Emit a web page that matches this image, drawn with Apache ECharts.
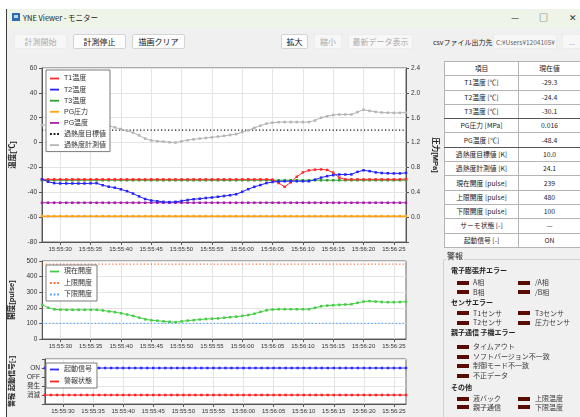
<!DOCTYPE html>
<html>
<head>
<meta charset="utf-8">
<script src="https://cdn.jsdelivr.net/npm/echarts@6/dist/echarts.min.js"></script>
<style>
html,body{margin:0;padding:0;width:580px;height:417px;overflow:hidden;background:#fff;
  font-family:"Noto Sans CJK JP","Liberation Sans",sans-serif;}
#win{position:absolute;left:6px;top:9px;width:574px;height:408px;background:#f0f0f0;border-left:1px solid #3c3c3c;box-sizing:border-box;}
#titlebar{position:absolute;left:7px;top:9px;width:573px;height:19px;background:#eef5e8;}
#icon{position:absolute;left:12px;top:13px;width:8px;height:8px;background:#2a6db5;}
#icon div{position:absolute;left:2px;top:2px;width:4px;height:3px;background:#bcd6f0;}
#title{position:absolute;left:23px;top:13px;font-size:7.5px;line-height:10px;color:#222;}
.ctl{position:absolute;top:12px;font-size:9px;line-height:12px;color:#333;}
.btn{position:absolute;top:34px;height:15px;line-height:14px;font-size:8px;text-align:center;box-sizing:border-box;
  border:1px solid #d4d4d4;background:#fdfdfd;border-radius:2px;color:#111;}
.btn.dis{border-color:#ececec;background:#f7f7f7;color:#ababab;}
#csvlbl{position:absolute;left:433px;top:37px;font-size:7px;line-height:10px;color:#222;}
#path{position:absolute;left:493px;top:34px;width:64px;height:15px;line-height:14px;font-size:6.5px;color:#666;
  background:#f7f7f7;border:1px solid #ececec;box-sizing:border-box;overflow:hidden;white-space:nowrap;padding-left:2px;}
#chart{position:absolute;left:0;top:0;width:580px;height:417px;}
#tbl{position:absolute;left:444px;top:61px;width:136px;border-collapse:collapse;background:#fff;border:1px solid #555;table-layout:fixed;}
#tbl td{height:13.3px;padding:0;font-size:6.8px;line-height:9px;text-align:center;border:1px solid #b4b4b4;color:#222;white-space:nowrap;overflow:hidden;}
#tbl tr.grp td{border-bottom:1px solid #555;}
#alarmBox{position:absolute;left:443px;top:259px;width:140px;height:170px;border:1px solid #d2d2d2;border-radius:2px;box-sizing:border-box;}
#alarmTitle{position:absolute;left:446px;top:251px;font-size:8px;line-height:10px;color:#222;background:#f0f0f0;padding:0 1px;}
.hd{position:absolute;left:451px;font-size:7px;line-height:9px;font-weight:bold;color:#222;}
.mk{position:absolute;width:12px;height:4px;background:#5a0b02;}
.it{position:absolute;font-size:7px;line-height:9px;color:#3a3a3a;white-space:nowrap;}
</style>
</head>
<body>
<div id="win"></div>
<div id="titlebar"></div>
<div id="icon"><div></div></div>
<div id="title">YNE Viewer - モニター</div>
<div class="ctl" style="left:511px">—</div>
<div class="ctl" style="left:539px">□</div>
<div class="ctl" style="left:569px">✕</div>

<div class="btn dis" style="left:14px;width:53px">計測開始</div>
<div class="btn" style="left:73px;width:53px">計測停止</div>
<div class="btn" style="left:132px;width:53px">描画クリア</div>
<div class="btn" style="left:281px;width:27px">拡大</div>
<div class="btn dis" style="left:314px;width:28px">縮小</div>
<div class="btn dis" style="left:348px;width:65px">最新データ表示</div>
<div id="csvlbl">csvファイル出力先</div>
<div id="path">C:¥Users¥1204105¥</div>
<div class="btn dis" style="left:562px;width:20px">...</div>

<div id="chart"></div>

<table id="tbl">
  <colgroup><col style="width:74px"><col style="width:62px"></colgroup>
  <tr><td>項目</td><td>現在値</td></tr>
  <tr><td>T1温度 [℃]</td><td>-29.3</td></tr>
  <tr><td>T2温度 [℃]</td><td>-24.4</td></tr>
  <tr class="grp"><td>T3温度 [℃]</td><td>-30.1</td></tr>
  <tr><td>PG圧力 [MPa]</td><td>0.016</td></tr>
  <tr class="grp"><td>PG温度 [℃]</td><td>-48.4</td></tr>
  <tr><td>過熱度目標値 [K]</td><td>10.0</td></tr>
  <tr><td>過熱度計測値 [K]</td><td>24.1</td></tr>
  <tr><td>現在開度 [pulse]</td><td>239</td></tr>
  <tr><td>上限開度 [pulse]</td><td>480</td></tr>
  <tr><td>下限開度 [pulse]</td><td>100</td></tr>
  <tr><td>サーモ状態 [-]</td><td>—</td></tr>
  <tr><td>起動信号 [-]</td><td>ON</td></tr>
</table>

<div id="alarmBox"></div>
<div id="alarmTitle">警報</div>
<div class="hd" style="top:266px">電子膨張弁エラー</div>
<div class="mk" style="left:457px;top:281px"></div><div class="it" style="left:473px;top:278px">A相</div>
<div class="mk" style="left:518px;top:281px"></div><div class="it" style="left:535px;top:278px">/A相</div>
<div class="mk" style="left:457px;top:290px"></div><div class="it" style="left:473px;top:288px">B相</div>
<div class="mk" style="left:518px;top:290px"></div><div class="it" style="left:535px;top:288px">/B相</div>
<div class="hd" style="top:298px">センサエラー</div>
<div class="mk" style="left:457px;top:311px"></div><div class="it" style="left:473px;top:309px">T1センサ</div>
<div class="mk" style="left:518px;top:311px"></div><div class="it" style="left:535px;top:309px">T3センサ</div>
<div class="mk" style="left:457px;top:321px"></div><div class="it" style="left:473px;top:318px">T2センサ</div>
<div class="mk" style="left:518px;top:321px"></div><div class="it" style="left:535px;top:318px">圧力センサ</div>
<div class="hd" style="top:328px">親子通信 子機エラー</div>
<div class="mk" style="left:457px;top:345px"></div><div class="it" style="left:473px;top:342px">タイムアウト</div>
<div class="mk" style="left:457px;top:355px"></div><div class="it" style="left:473px;top:352px">ソフトバージョン不一致</div>
<div class="mk" style="left:457px;top:364px"></div><div class="it" style="left:473px;top:361px">制御モード不一致</div>
<div class="mk" style="left:457px;top:374px"></div><div class="it" style="left:473px;top:371px">不正データ</div>
<div class="hd" style="top:383px">その他</div>
<div class="mk" style="left:457px;top:397px"></div><div class="it" style="left:473px;top:394px">液バック</div>
<div class="mk" style="left:518px;top:397px"></div><div class="it" style="left:535px;top:394px">上限温度</div>
<div class="mk" style="left:457px;top:405px"></div><div class="it" style="left:473px;top:403px">親子通信</div>
<div class="mk" style="left:518px;top:405px"></div><div class="it" style="left:535px;top:403px">下限温度</div>

<script>
// Sampling times (one sample per second)
const timeLabels = [
  '15:55:27','15:55:28','15:55:29','15:55:30','15:55:31','15:55:32','15:55:33','15:55:34','15:55:35','15:55:36',
  '15:55:37','15:55:38','15:55:39','15:55:40','15:55:41','15:55:42','15:55:43','15:55:44','15:55:45','15:55:46',
  '15:55:47','15:55:48','15:55:49','15:55:50','15:55:51','15:55:52','15:55:53','15:55:54','15:55:55','15:55:56',
  '15:55:57','15:55:58','15:55:59','15:56:00','15:56:01','15:56:02','15:56:03','15:56:04','15:56:05','15:56:06',
  '15:56:07','15:56:08','15:56:09','15:56:10','15:56:11','15:56:12','15:56:13','15:56:14','15:56:15','15:56:16',
  '15:56:17','15:56:18','15:56:19','15:56:20','15:56:21','15:56:22','15:56:23','15:56:24','15:56:25','15:56:26',
  '15:56:27'
];

// Temperatures [℃]
const t1Temp = [
  -29.6,-29.6,-29.6,-29.6,-29.6,-29.6,-29.6,-29.6,-29.6,-29.6,
  -29.6,-29.6,-29.6,-29.6,-29.6,-29.6,-29.6,-29.6,-29.6,-29.6,
  -29.6,-29.6,-29.6,-29.6,-29.6,-29.6,-29.6,-29.6,-29.6,-29.6,
  -29.6,-29.6,-29.6,-29.6,-29.6,-29.6,-29.6,-29.6,-29.8,-32.5,
  -35.6,-32.0,-27.5,-24.0,-22.4,-21.8,-21.6,-22.0,-24.2,-28.2,
  -29.6,-29.6,-29.6,-29.6,-29.6,-29.6,-29.6,-29.6,-29.6,-29.6,
  -29.3
];
const t2Temp = [
  -29.5,-31.5,-32.6,-32.9,-32.9,-32.9,-32.9,-32.9,-32.8,-32.7,
  -34.3,-35.5,-36.3,-37.6,-39.1,-41.0,-43.3,-45.4,-46.6,-47.2,
  -47.7,-47.9,-47.7,-47.0,-46.2,-45.6,-45.2,-44.6,-44.2,-43.6,
  -43.0,-42.4,-41.6,-39.6,-37.5,-35.6,-34.2,-32.6,-31.7,-31.3,
  -31.1,-31.1,-31.1,-31.1,-31.1,-29.8,-28.2,-27.0,-26.2,-25.7,
  -25.7,-25.6,-23.6,-22.3,-23.0,-24.0,-24.5,-24.7,-24.8,-24.8,
  -24.4
];
const t3Temp = [
  -30.3,-30.3,-30.3,-30.3,-30.3,-30.3,-30.3,-30.3,-30.3,-30.3,
  -30.3,-30.3,-30.3,-30.3,-30.3,-30.3,-30.3,-30.3,-30.3,-30.3,
  -30.3,-30.3,-30.3,-30.3,-30.3,-30.3,-30.3,-30.3,-30.3,-30.3,
  -30.3,-30.3,-30.3,-30.3,-30.3,-30.3,-30.3,-30.3,-30.3,-30.3,
  -30.3,-30.3,-30.3,-30.3,-30.3,-30.3,-30.3,-30.3,-30.3,-30.3,
  -30.3,-30.3,-30.3,-30.3,-30.3,-30.3,-30.3,-30.3,-30.3,-30.3,
  -30.1
];
// Pressure gauge [MPa] and its temperature [℃]
const pgPressure = [
  0.016,0.016,0.016,0.016,0.016,0.016,0.016,0.016,0.016,0.016,
  0.016,0.016,0.016,0.016,0.016,0.016,0.016,0.016,0.016,0.016,
  0.016,0.016,0.016,0.016,0.016,0.016,0.016,0.016,0.016,0.016,
  0.016,0.016,0.016,0.016,0.016,0.016,0.016,0.016,0.016,0.016,
  0.016,0.016,0.016,0.016,0.016,0.016,0.016,0.016,0.016,0.016,
  0.016,0.016,0.016,0.016,0.016,0.016,0.016,0.016,0.016,0.016,
  0.016
];
const pgTemp = [
  -48.4,-48.4,-48.4,-48.4,-48.4,-48.4,-48.4,-48.4,-48.4,-48.4,
  -48.4,-48.4,-48.4,-48.4,-48.4,-48.4,-48.4,-48.4,-48.4,-48.4,
  -48.4,-48.4,-48.4,-48.4,-48.4,-48.4,-48.4,-48.4,-48.4,-48.4,
  -48.4,-48.4,-48.4,-48.4,-48.4,-48.4,-48.4,-48.4,-48.4,-48.4,
  -48.4,-48.4,-48.4,-48.4,-48.4,-48.4,-48.4,-48.4,-48.4,-48.4,
  -48.4,-48.4,-48.4,-48.4,-48.4,-48.4,-48.4,-48.4,-48.4,-48.4,
  -48.4
];
// Superheat [K]: target and measured
const superheatTarget = [
  10,10,10,10,10,10,10,10,10,10, 10,10,10,10,10,10,10,10,10,10,
  10,10,10,10,10,10,10,10,10,10, 10,10,10,10,10,10,10,10,10,10,
  10,10,10,10,10,10,10,10,10,10, 10,10,10,10,10,10,10,10,10,10,
  10
];
const superheatMeasured = [
  14.0,14.2,14.5,14.8,15.0,15.0,14.8,14.6,14.3,14.0,
  13.8,13.4,12.2,10.9,9.5,8.0,5.8,3.2,1.7,1.1,
  0.8,0.3,0.0,1.0,1.9,2.6,3.2,3.7,4.2,4.8,
  5.4,6.1,6.8,8.4,9.9,11.8,13.6,15.3,16.0,16.4,
  16.5,16.5,16.5,16.5,16.5,17.8,20.0,21.2,22.2,22.6,
  22.6,22.6,24.5,26.4,25.5,24.7,24.2,24.0,23.9,23.9,
  24.1
];
// Valve opening [pulse]
const openingNow = [
  219,200,190,188,187,187,187,187,187,187,
  183,177,172,165,157,148,137,126,120,117,
  113,110,108,113,118,121,125,128,130,132,
  136,140,143,148,154,162,174,184,189,191,
  191,191,191,191,191,200,210,214,217,219,
  221,223,232,240,243,240,237,236,236,237,
  239
];
const openingUpper = [
  480,480,480,480,480,480,480,480,480,480, 480,480,480,480,480,480,480,480,480,480,
  480,480,480,480,480,480,480,480,480,480, 480,480,480,480,480,480,480,480,480,480,
  480,480,480,480,480,480,480,480,480,480, 480,480,480,480,480,480,480,480,480,480,
  480
];
const openingLower = [
  100,100,100,100,100,100,100,100,100,100, 100,100,100,100,100,100,100,100,100,100,
  100,100,100,100,100,100,100,100,100,100, 100,100,100,100,100,100,100,100,100,100,
  100,100,100,100,100,100,100,100,100,100, 100,100,100,100,100,100,100,100,100,100,
  100
];
// Status levels: 1 = 消滅, 2 = 発生, 3 = OFF, 4 = ON
const statusLabels = ['', '消滅', '発生', 'OFF', 'ON', ''];
const runSignal = [
  4,4,4,4,4,4,4,4,4,4, 4,4,4,4,4,4,4,4,4,4, 4,4,4,4,4,4,4,4,4,4,
  4,4,4,4,4,4,4,4,4,4, 4,4,4,4,4,4,4,4,4,4, 4,4,4,4,4,4,4,4,4,4, 4
];
const alarmState = [
  1,1,1,1,1,1,1,1,1,1, 1,1,1,1,1,1,1,1,1,1, 1,1,1,1,1,1,1,1,1,1,
  1,1,1,1,1,1,1,1,1,1, 1,1,1,1,1,1,1,1,1,1, 1,1,1,1,1,1,1,1,1,1, 1
];

const FONT = '"Liberation Sans","Noto Sans CJK JP",sans-serif';
const AXIS = '#555';
const GRIDLINE = '#e4e4e4';
const everyFive = (i) => i % 5 === 3;
const solidIcon = 'path://M0,0H10V2H0Z';
const dotIcon = 'path://M0,0H2V2H0ZM4,0H6V2H4ZM8,0H10V2H8Z';

function timeAxis(gridIndex) {
  return {
    type: 'category', gridIndex, data: timeLabels, boundaryGap: false,
    axisLine: { onZero: false, lineStyle: { color: AXIS } },
    axisTick: { interval: everyFive, length: 3, lineStyle: { color: AXIS } },
    axisLabel: { interval: everyFive, fontSize: 6, color: '#333', margin: 4, fontFamily: FONT },
    splitLine: { show: true, interval: everyFive, lineStyle: { color: GRIDLINE } }
  };
}
function valueAxis(gridIndex, extra) {
  return Object.assign({
    type: 'value', gridIndex,
    axisLine: { show: true, onZero: false, lineStyle: { color: AXIS } },
    axisTick: { show: true, length: 3, lineStyle: { color: AXIS } },
    axisLabel: { fontSize: 6.5, color: '#333', margin: 5, fontFamily: FONT },
    splitLine: { show: true, lineStyle: { color: GRIDLINE } },
    nameLocation: 'middle',
    nameTextStyle: { fontSize: 7.5, color: '#222', fontWeight: 'bold', fontFamily: FONT }
  }, extra);
}
function marked(name, data, color, xi, yi, extra) {
  return Object.assign({
    name, type: 'line', data, xAxisIndex: xi, yAxisIndex: yi,
    symbol: 'rect', symbolSize: 2.5, showAllSymbol: true,
    lineStyle: { color, width: 1 }, itemStyle: { color },
    emphasis: { disabled: true }
  }, extra || {});
}
function dotted(name, data, color, xi, yi) {
  return {
    name, type: 'line', data, xAxisIndex: xi, yAxisIndex: yi, symbol: 'none',
    lineStyle: { color, width: 1.2, type: [1.2, 2.3] }, itemStyle: { color },
    emphasis: { disabled: true }
  };
}
function legendBox(top, padding, gap, items) {
  return {
    orient: 'vertical', left: 46, top, padding, itemGap: gap,
    itemWidth: 9, itemHeight: 8, backgroundColor: '#fff', borderColor: '#7a7a7a', borderWidth: 1,
    textStyle: { fontSize: 7, color: '#333', fontFamily: FONT },
    selectedMode: false, data: items
  };
}

const chart = echarts.init(document.getElementById('chart'), null, { renderer: 'canvas' });
chart.setOption({
  animation: false,
  backgroundColor: 'transparent',
  grid: [
    { left: 42, top: 68, width: 364, height: 174, show: true, backgroundColor: '#fff', borderColor: '#666', borderWidth: 1 },
    { left: 42, top: 261, width: 364, height: 78, show: true, backgroundColor: '#fff', borderColor: '#666', borderWidth: 1 },
    { left: 42, top: 359, width: 364, height: 45, show: true, backgroundColor: '#fff', borderColor: '#666', borderWidth: 1 }
  ],
  xAxis: [timeAxis(0), timeAxis(1), timeAxis(2)],
  yAxis: [
    valueAxis(0, { min: -80, max: 60, interval: 20, position: 'left', name: '温度[℃]', nameGap: 16, nameRotate: 90 }),
    valueAxis(0, {
      min: -0.4, max: 2.4, interval: 0.4, position: 'right', name: '圧力[MPa]', nameGap: 16, nameRotate: -90,
      splitLine: { show: false },
      axisLabel: { fontSize: 6.5, color: '#333', margin: 5, fontFamily: FONT,
        formatter: (v) => (v < -0.01 ? '' : v.toFixed(1)) }
    }),
    valueAxis(1, { min: 0, max: 500, interval: 100, name: '開度[pulse]', nameGap: 16, nameRotate: 90 }),
    valueAxis(2, {
      min: 0, max: 5, interval: 1, name: '警報 起動信号[-]', nameGap: 14, nameRotate: 90,
      nameTextStyle: { fontSize: 7, color: '#222', fontWeight: 'bold', fontFamily: FONT, width: 50, overflow: 'break', lineHeight: 8 },
      axisLabel: { fontSize: 6.5, color: '#333', margin: 5, fontFamily: FONT, formatter: (v) => statusLabels[v] || '' }
    })
  ],
  legend: [
    legendBox(70, [5, 4, 3, 4], 4.1, [
      { name: 'T1温度', icon: solidIcon }, { name: 'T2温度', icon: solidIcon }, { name: 'T3温度', icon: solidIcon },
      { name: 'PG圧力', icon: solidIcon }, { name: 'PG温度', icon: solidIcon },
      { name: '過熱度目標値', icon: dotIcon }, { name: '過熱度計測値', icon: solidIcon }
    ]),
    legendBox(265, [3, 5, 3, 4], 4.5, [
      { name: '現在開度', icon: solidIcon }, { name: '上限開度', icon: dotIcon }, { name: '下限開度', icon: dotIcon }
    ]),
    legendBox(363, [3, 5, 3, 4], 5, [
      { name: '起動信号', icon: solidIcon }, { name: '警報状態', icon: solidIcon }
    ])
  ],
  series: [
    dotted('過熱度目標値', superheatTarget, '#111', 0, 0),
    marked('過熱度計測値', superheatMeasured, '#b4b4b4', 0, 0),
    marked('PG圧力', pgPressure, '#ffa31a', 0, 1, { lineStyle: { color: '#ffa31a', width: 1.5 } }),
    marked('PG温度', pgTemp, '#a21fa8', 0, 0),
    marked('T3温度', t3Temp, '#2f9f2f', 0, 0),
    marked('T1温度', t1Temp, '#ff2a2a', 0, 0),
    marked('T2温度', t2Temp, '#2222ff', 0, 0),
    marked('現在開度', openingNow, '#44cc44', 1, 2),
    dotted('上限開度', openingUpper, '#ff6a33', 1, 2),
    dotted('下限開度', openingLower, '#4da3ff', 1, 2),
    marked('起動信号', runSignal, '#2b2bff', 2, 3),
    marked('警報状態', alarmState, '#ff2222', 2, 3)
  ]
});
</script>
</body>
</html>
